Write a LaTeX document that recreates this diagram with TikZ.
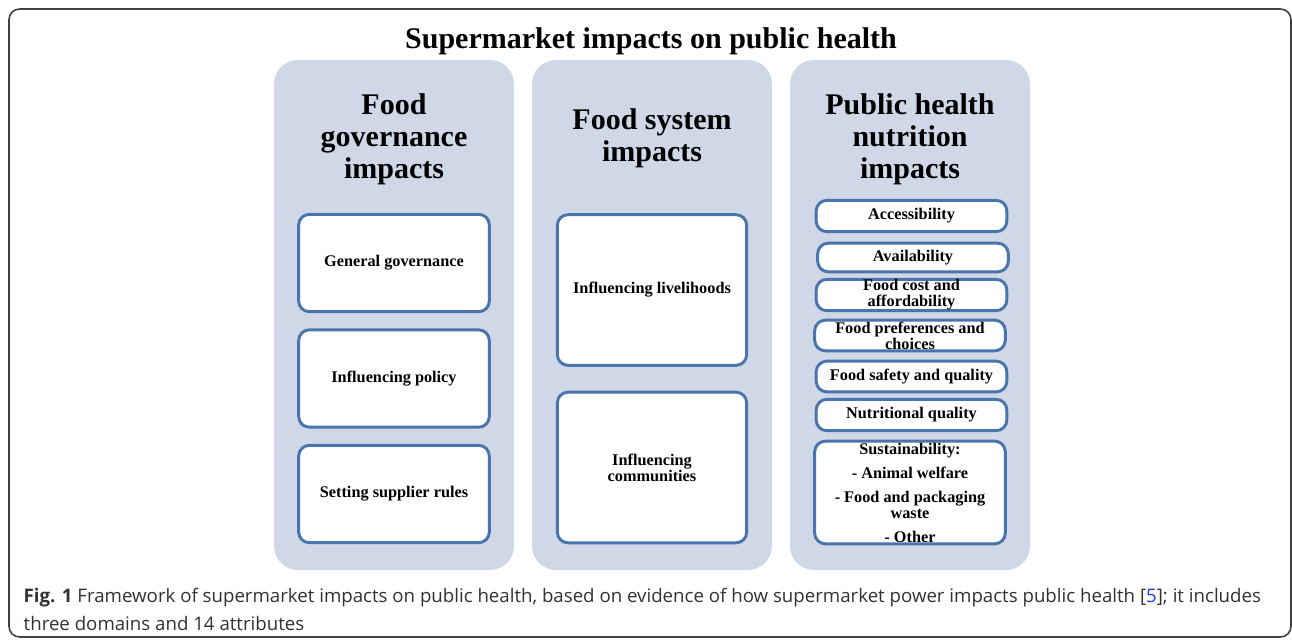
\documentclass[tikz,border=0pt]{standalone}
\usepackage{fontspec}
\setmainfont{Liberation Serif}
\newfontfamily\capfont{Open Sans}
\usetikzlibrary{positioning}
\definecolor{panelgray}{RGB}{208,216,232}
\definecolor{itemblue}{RGB}{74,116,172}
\definecolor{capgray}{RGB}{50,50,50}
\definecolor{citeblue}{RGB}{40,60,220}
\tikzset{
panel/.style={fill=panelgray, rounded corners=18pt, minimum width=180pt, minimum height=382.5pt, inner sep=0pt}, % the three grey domains
item/.style={draw=itemblue, line width=2.2pt, fill=white, rounded corners=8pt, align=center, inner sep=0pt, font=\fontsize{12.2}{12}\selectfont\bfseries}, % the white attribute boxes
heading/.style={align=center, font=\fontsize{22.5}{24}\selectfont\bfseries}, % domain names
}

\begin{document}
\begin{tikzpicture}[x=0.75pt, y=-0.75pt]
    \useasboundingbox (0,0) rectangle (1292,639);
    \draw[line width=1.2pt, black!75, rounded corners=8pt] (9,9) rectangle (1291,637);
    \node[font=\fontsize{22.5}{24}\selectfont\bfseries] (title) at (651,41) {Supermarket impacts on public health};

    % domains
    \node[panel] (gov) at (394,315) {};
    \node[panel] (sys) at (652,315) {};
    \node[panel] (nut) at (910,315) {};
    \node[heading] (govhead) at (394,139) {Food\\governance\\impacts};
    \node[heading] (syshead) at (652,138) {Food system\\impacts};
    \node[heading] (nuthead) at (910,139) {Public health\\nutrition\\impacts};

    % food governance
    \node[item, minimum width=143pt, minimum height=73pt] (general) at (394,263) {General governance};
    \node[item, minimum width=143pt, minimum height=73pt] (policy) at (394,378.5) {Influencing policy};
    \node[item, minimum width=143pt, minimum height=73pt] (supplier) at (394,494) {Setting supplier rules};

    % food system
    \node[item, minimum width=142pt, minimum height=113pt] (livelihoods) at (652,290) {Influencing livelihoods};
    \node[item, minimum width=142pt, minimum height=113pt] (communities) at (652,467.5) {Influencing\\communities};

    % public health nutrition
    \node[item, minimum width=143pt, minimum height=23.5pt] (access) at (911.5,216) {Accessibility};
    \node[item, minimum width=143pt, minimum height=21.5pt] (avail) at (913,257.5) {Availability};
    \node[item, minimum width=143pt, minimum height=23.5pt] (cost) at (911.5,295) {Food cost and\\affordability};
    \node[item, minimum width=143pt, minimum height=23pt] (prefs) at (910,335.5) {Food preferences and\\choices};
    \node[item, minimum width=143pt, minimum height=23pt] (safety) at (911.5,376.5) {Food safety and quality};
    \node[item, minimum width=143pt, minimum height=23.5pt] (quality) at (911.5,415) {Nutritional quality};
    \node[item, minimum width=143pt, minimum height=77pt] (sustain) at (910,492.5) {Sustainability:\\[6pt]- Animal welfare\\[6pt]- Food and packaging\\waste\\[6pt]- Other};

    \node[anchor=base west, align=left, text=capgray, font=\capfont\fontsize{14}{21}\selectfont] (caption) at (19,630)
        {\textbf{Fig. 1} Framework of supermarket impacts on public health, based on evidence of how supermarket power impacts public health [\textcolor{citeblue}{5}]; it includes\\three domains and 14 attributes};
\end{tikzpicture}
\end{document}
